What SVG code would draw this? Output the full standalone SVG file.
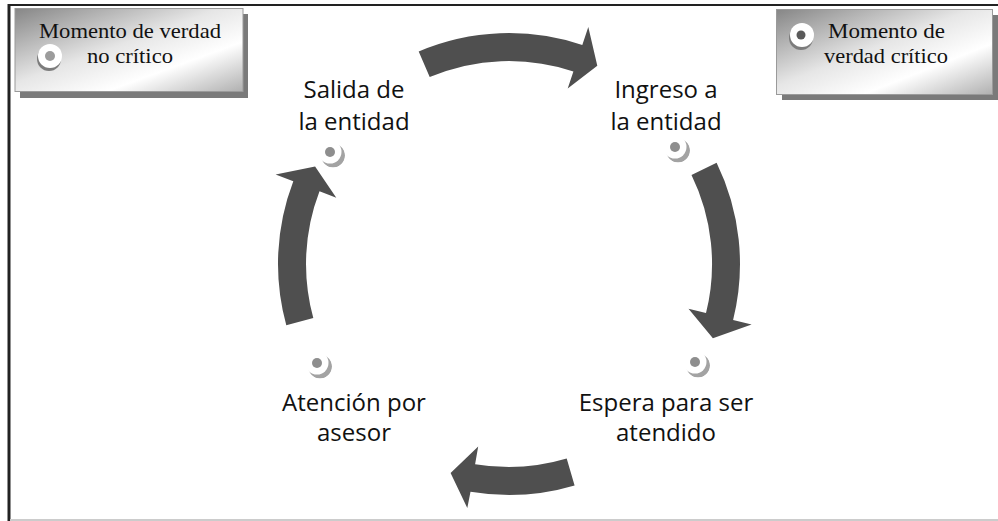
<svg xmlns="http://www.w3.org/2000/svg" width="998" height="521" viewBox="0 0 998 521">
<style>
.lbl{font-family:"Open Sans","Liberation Sans",sans-serif;font-size:24px;fill:#111;text-anchor:middle}
.box-t{font-family:"Liberation Serif","Times New Roman",serif;font-size:22px;fill:#111}
.arrow{fill:#4f4f4f}
</style>
<defs>
<linearGradient id="boxg" x1="0" y1="0" x2="1" y2="1">
<stop offset="0" stop-color="#868686"/>
<stop offset="0.45" stop-color="#e6e6e6"/>
<stop offset="0.7" stop-color="#ffffff"/>
<stop offset="1" stop-color="#b0b0b0"/>
</linearGradient>
<mask id="cres" maskUnits="userSpaceOnUse" x="-25" y="-25" width="50" height="50">
<circle cx="3" cy="3.5" r="12" fill="#fff"/>
<circle cx="0" cy="0" r="11.5" fill="#000"/>
</mask>
<g id="ico">
<circle r="5" fill="#8e8e8e"/>
<circle cx="3" cy="3.5" r="12" fill="#a3a3a3" mask="url(#cres)"/>
</g>
</defs>
<rect width="998" height="521" fill="#fff"/>
<!-- frame -->
<line x1="9" y1="5" x2="998" y2="5" stroke="#222" stroke-width="2"/>
<line x1="9" y1="4" x2="9" y2="521" stroke="#222" stroke-width="3"/>
<line x1="10" y1="520" x2="998" y2="520" stroke="#ccc" stroke-width="2"/>

<g id="legend-no-critico">
<rect x="20" y="14" width="228" height="84" fill="#7a7a7a"/>
<rect x="15" y="8.5" width="228" height="83" fill="url(#boxg)" stroke="#9a9a9a" stroke-width="1"/>
<circle cx="49" cy="59" r="12" fill="#7c7c7c"/>
<circle cx="50" cy="56" r="12" fill="#fff"/>
<circle cx="50" cy="56" r="5" fill="#9c9c9c"/>
<text class="box-t" x="39" y="38" textLength="182" lengthAdjust="spacingAndGlyphs">Momento de verdad</text>
<text class="box-t" x="87" y="63" textLength="86" lengthAdjust="spacingAndGlyphs">no crítico</text>
</g>

<g id="legend-critico">
<rect x="782" y="15" width="216" height="85" fill="#7a7a7a"/>
<rect x="776.5" y="9.5" width="216" height="85" fill="url(#boxg)" stroke="#9a9a9a" stroke-width="1"/>
<circle cx="801" cy="38" r="12" fill="#7c7c7c"/>
<circle cx="802" cy="35" r="12" fill="#fff"/>
<circle cx="801" cy="35" r="4.5" fill="#5a5a5a"/>
<text class="box-t" x="828" y="38" textLength="117" lengthAdjust="spacingAndGlyphs">Momento de</text>
<text class="box-t" x="824" y="63" textLength="124" lengthAdjust="spacingAndGlyphs">verdad crítico</text>
</g>

<g id="connectors">
<path class="arrow" d="M418.7,51.4 A231,231 0 0 1 582.3,44.9 L588.3,26.9 L597.3,65.8 L567.7,88.6 L573.4,71.5 A203,203 0 0 0 429.7,77.1 Z"/>
<path class="arrow" d="M716.6,162.7 A231,231 0 0 1 733.1,319.9 L751.6,324.5 L712.9,338.2 L688.5,308.8 L706.0,313.1 A203,203 0 0 0 691.5,175.0 Z"/>
<path class="arrow" d="M574.6,485.5 A231,231 0 0 1 470.5,491.8 L467.3,508 L450.6,473.0 L478.2,446.4 L475.1,464.2 A203,203 0 0 0 566.7,458.6 Z"/>
<path class="arrow" d="M286.3,325.3 A231,231 0 0 1 293.3,181.2 L275.6,174.4 L315.1,166.5 L336.3,197.7 L319.5,191.3 A203,203 0 0 0 313.3,317.9 Z"/>
</g>

<g id="node-ingreso">
<use href="#ico" x="675" y="147"/>
<text class="lbl" x="666" y="98">Ingreso a</text>
<text class="lbl" x="666" y="130">la entidad</text>
</g>

<g id="node-espera">
<use href="#ico" x="695" y="362"/>
<text class="lbl" x="666" y="411">Espera para ser</text>
<text class="lbl" x="666" y="441">atendido</text>
</g>

<g id="node-atencion">
<use href="#ico" x="317" y="363"/>
<text class="lbl" x="354" y="411">Atención por</text>
<text class="lbl" x="354" y="441">asesor</text>
</g>

<g id="node-salida">
<use href="#ico" x="330" y="152"/>
<text class="lbl" x="354" y="98">Salida de</text>
<text class="lbl" x="354" y="130">la entidad</text>
</g>
</svg>
